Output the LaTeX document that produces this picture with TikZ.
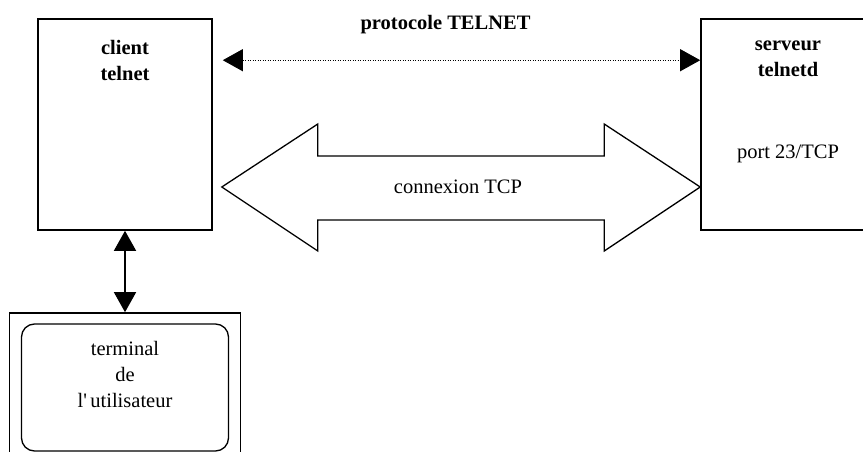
\documentclass[tikz,border=0pt]{standalone}
\usepackage{fontspec}
\setmainfont{Liberation Serif}
\usetikzlibrary{arrows.meta, positioning, calc}
\newcommand{\diagsize}{\fontsize{20.5pt}{26pt}\selectfont}
\tikzset{
  hostbox/.style={rectangle, draw=black, line width=1.6pt,
                  minimum width=174pt, minimum height=211pt, inner sep=0pt},
  lbl/.style={font=\diagsize\bfseries, align=center, inner sep=0pt,
              execute at begin node=\strut},
  txt/.style={font=\diagsize, align=center, inner sep=0pt},
  arr/.style={{Triangle[length=20pt,width=22pt]}-{Triangle[length=20pt,width=22pt]},
              line width=#1},
  arr/.default=1.5pt,
}

\begin{document}
\begin{tikzpicture}[x=1pt, y=-1pt]
  \useasboundingbox (0,0) rectangle (863,452);

  % Hosts -- client left, server right (cut by the page edge)
  \node[hostbox] (client) at (125,124.5) {};
  \node[hostbox] (server) at (788,124.5) {};
  \node[lbl, below=22pt of client.north] (clientlbl) {client\\telnet};
  \node[lbl, below=22pt of server.north] (serverlbl) {serveur\\telnetd};
  \node[txt, anchor=base] (port) at ($(server.north)+(0,140)$) {port 23/TCP};

  % User terminal -- bottom left
  \node[rectangle, draw, line width=1.6pt, minimum width=231pt,
        minimum height=167pt] (term) at (125,396.5) {};
  \node[rectangle, draw, rounded corners=13pt, line width=1.3pt,
        minimum width=207pt, minimum height=127pt] (screen) at (125,387.5) {};
  \node[txt, below=18pt of screen.north, execute at begin node=\strut]
    (screenlbl) {terminal\\de\\l\textquotesingle\,utilisateur};

  % TELNET protocol -- dotted
  \coordinate (protoL) at ($(client.north east)+(10,42)$);
  \coordinate (protoR) at ($(server.north west)+(0,42)$);
  \draw[arr=0.9pt, dash pattern=on 1pt off 1.5pt] (protoL) -- (protoR);
  \node[lbl, execute at begin node={}, anchor=base] (proto)
    at ($(protoL)!0.5!(protoR)+(-16,-31)$) {protocole TELNET};

  % TCP connection -- big double arrow
  \coordinate (tcpL) at ($(client.east)+(9,62.5)$);
  \coordinate (tcpR) at ($(server.west)+(0,62.5)$);
  \draw[line width=1.3pt] (tcpL) -- ++(96,-63) -- ++(0,32)
    -- ($(tcpR)+(-96,-31)$) -- ++(0,-32) -- (tcpR) -- ++(-96,64) -- ++(0,-31)
    -- ($(tcpL)+(96,33)$) -- ++(0,31) -- cycle;
  \node[txt] (tcp) at ($(tcpL)!0.5!(tcpR)+(-3,0)$) {connexion TCP};

  % Client <-> terminal
  \draw[arr] (client.south) -- (term.north);
\end{tikzpicture}
\end{document}
